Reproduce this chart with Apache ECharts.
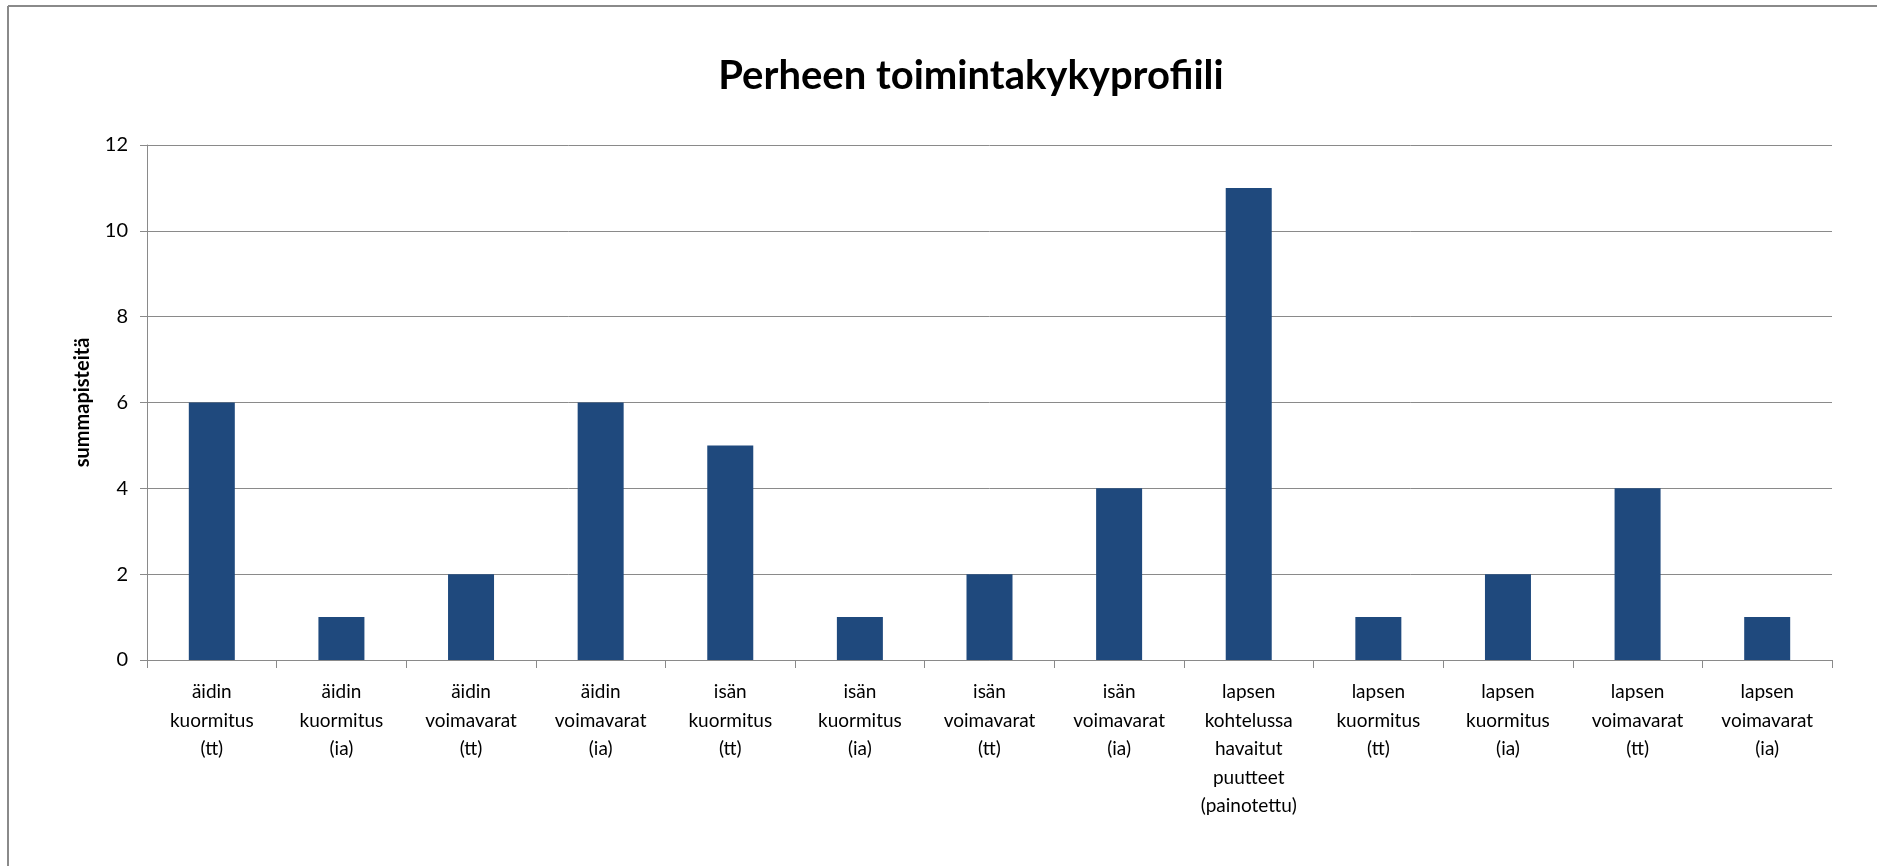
<!DOCTYPE html>
<html>
<head>
<meta charset="utf-8">
<title>Perheen toimintakykyprofiili</title>
<script src="https://cdn.jsdelivr.net/npm/echarts@6/dist/echarts.min.js"></script>
<style>
  html, body { margin: 0; padding: 0; background: #fff; }
  #chart { width: 1877px; height: 866px; }
</style>
</head>
<body>
<div id="chart"></div>
<script>
// kategoriat ja arvot
var categories = [
  "äidin\nkuormitus\n(tt)",
  "äidin\nkuormitus\n(ia)",
  "äidin\nvoimavarat\n(tt)",
  "äidin\nvoimavarat\n(ia)",
  "isän\nkuormitus\n(tt)",
  "isän\nkuormitus\n(ia)",
  "isän\nvoimavarat\n(tt)",
  "isän\nvoimavarat\n(ia)",
  "lapsen\nkohtelussa\nhavaitut\npuutteet\n(painotettu)",
  "lapsen\nkuormitus\n(tt)",
  "lapsen\nkuormitus\n(ia)",
  "lapsen\nvoimavarat\n(tt)",
  "lapsen\nvoimavarat\n(ia)"
];
var pisteet = [6, 1, 2, 6, 5, 1, 2, 4, 11, 1, 2, 4, 1];
var yTicks = [0, 2, 4, 6, 8, 10, 12];

var fontName = "Lato, 'Open Sans', sans-serif";

var chart = echarts.init(document.getElementById("chart"));
chart.setOption({
  animation: false,
  backgroundColor: "#fff",
  graphic: [
    // kehys (vain ylä- ja vasen reuna näkyvät)
    { type: "line", shape: { x1: 8, y1: 6, x2: 1877, y2: 6 },
      style: { stroke: "#8a8a8a", lineWidth: 2 } },
    { type: "line", shape: { x1: 8, y1: 6, x2: 8, y2: 866 },
      style: { stroke: "#8a8a8a", lineWidth: 2 } },
    { type: "text", x: 971, y: 76,
      style: { text: "Perheen toimintakykyprofiili", fill: "#000",
        font: "bold 40px " + fontName, textAlign: "center", textVerticalAlign: "middle" } }
  ],
  grid: { left: 147, right: 45, top: 145, bottom: 206 },
  xAxis: {
    type: "category",
    data: categories,
    axisLine: { lineStyle: { color: "#8a8a8a", width: 1 } },
    axisTick: { show: true, length: 8, lineStyle: { color: "#8a8a8a" } },
    axisLabel: { interval: 0, margin: 18, color: "#000", fontFamily: fontName,
      fontSize: 19, lineHeight: 28.5 }
  },
  yAxis: {
    type: "value",
    min: yTicks[0],
    max: yTicks[yTicks.length - 1],
    interval: 2,
    name: "summapisteitä",
    nameLocation: "middle",
    nameRotate: 90,
    nameGap: 54,
    nameTextStyle: { color: "#000", fontFamily: fontName, fontWeight: "bold", fontSize: 20 },
    axisLine: { show: true, lineStyle: { color: "#8a8a8a" } },
    axisTick: { show: true, length: 7, lineStyle: { color: "#8a8a8a" } },
    axisLabel: { margin: 19, color: "#000", fontFamily: fontName, fontSize: 20 },
    splitLine: { lineStyle: { color: "#8a8a8a", width: 1 } }
  },
  series: [{
    type: "bar",
    data: pisteet,
    barWidth: 46,
    itemStyle: { color: "#1f497d" }
  }]
});
</script>
</body>
</html>
